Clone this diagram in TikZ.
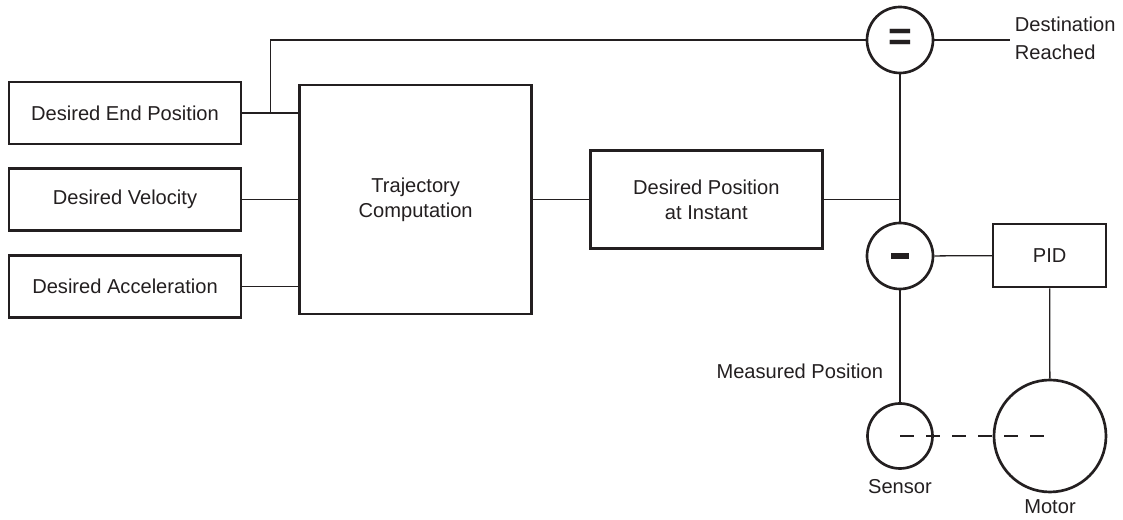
\documentclass[tikz,border=0pt]{standalone}
\usepackage{fontspec}
\setmainfont{Liberation Sans}
\usepackage{tikz}
\usetikzlibrary{positioning,calc}
\definecolor{ink}{HTML}{231F20}

\begin{document}
\begin{tikzpicture}[
  node distance=1.4cm,
  every node/.style={text=ink, font=\fontsize{14.3}{18}\selectfont},
  block/.style={draw=ink, line width=1.9pt, fill=white, minimum width=5.8cm, minimum height=1.55cm, align=center},
  sumnode/.style={draw=ink, circle, line width=1.9pt, minimum size=1.65cm, inner sep=0pt},
  wire/.style={draw=ink, line width=0.9pt}
]
\useasboundingbox (0,0) rectangle (28.075,13);
\node[block] (endpos) at (3.125,10.175) {Desired End Position};
\node[block, below=0.55cm of endpos] (velocity) {Desired Velocity};
\node[block, below=0.55cm of velocity] (accel) {Desired Acceleration};
\node[block, minimum height=5.725cm, right=of velocity] (traj) {Trajectory\\Computation};
\node[block, minimum height=2.45cm, right=of traj] (instant) {Desired Position\\at Instant};
\node[sumnode, font=\fontsize{29}{29}\selectfont\bfseries] (equal) at (22.5,12.0) {=};
\node[sumnode] (minus) at (22.5,6.6) {\color{ink}\rule{0.43cm}{0.13cm}};
\node[block, minimum width=2.825cm, minimum height=1.575cm] (pid) at (26.24,6.61) {PID};
\node[sumnode, minimum size=1.625cm] (sensor) at (22.5,2.1) {};
\node[sumnode, minimum size=2.8cm] (motor) at (26.25,2.1) {};
\node[anchor=west, align=left, font=\fontsize{14.3}{20}\selectfont] (dest) at (25.25,12.05) {Destination\\Reached};
\node[anchor=east] (measured) at (22.2,3.725) {Measured Position};
\node[below=0.12cm of sensor] (sensorlbl) {Sensor};
\node[below=0.04cm of motor] (motorlbl) {Motor};
\coordinate (split) at ($(endpos.east)!0.5!(endpos.east -| traj.west)$);
\draw[wire] (endpos.east) -- (endpos.east -| traj.west);
\draw[wire] (velocity) -- (traj);
\draw[wire] (accel.east) -- (accel.east -| traj.west);
\draw[wire] (split) |- (equal);
\draw[wire] (equal) -- (equal -| dest.west);
\draw[wire] (traj) -- (instant);
\draw[wire] (instant.east) -- (instant.east -| equal.south);
\draw[wire] (equal) -- (minus);
\draw[wire] (minus) -- (pid);
\draw[wire] (minus) -- (sensor);
\draw[wire] (pid) -- (motor);
\draw[wire, dash pattern=on 0.35cm off 0.3cm] (sensor.center) -- (motor.center);
\end{tikzpicture}
\end{document}
